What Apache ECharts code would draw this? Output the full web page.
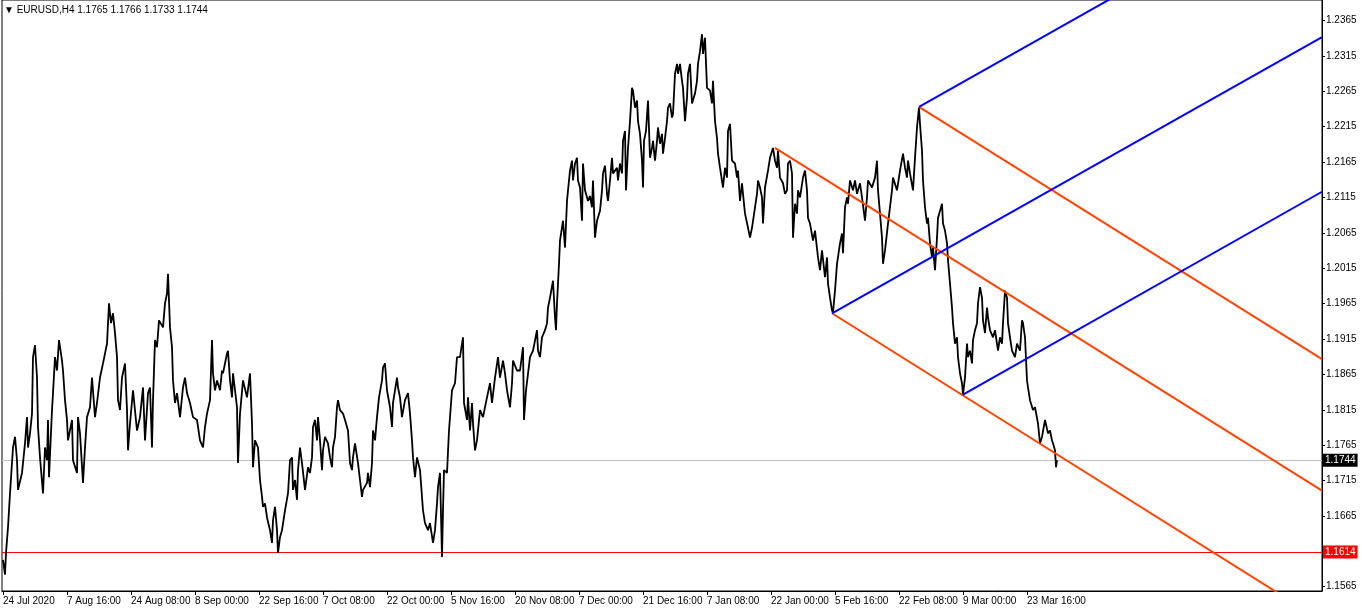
<!DOCTYPE html>
<html>
<head>
<meta charset="utf-8">
<script src="https://cdn.jsdelivr.net/npm/echarts@6.0.0/dist/echarts.min.js"></script>
<style>
html,body{margin:0;padding:0;background:#fff;}
#main{width:1362px;height:612px;}
</style>
</head>
<body>
<div id="main"></div>
<script>
// ---- data ----
const headerText = '\u25BC EURUSD,H4 1.1765 1.1766 1.1733 1.1744';
const xTickBars = [0,64,128,192,256,320,384,448,512,576,640,704,768,832,896,960,1024];
const xTickLabels = ['24 Jul 2020','7 Aug 16:00','24 Aug 08:00','8 Sep 00:00','22 Sep 16:00','7 Oct 08:00','22 Oct 00:00','5 Nov 16:00','20 Nov 08:00','7 Dec 00:00','21 Dec 16:00','7 Jan 08:00','22 Jan 00:00','5 Feb 16:00','22 Feb 08:00','9 Mar 00:00','23 Mar 16:00'];
const yTickFirst = 1.1565, yTickLast = 1.2365, yTickStep = 0.005;
const yHiddenLabels = ['1.1615'];
const yMin = 1.15589, yMax = 1.23954;
const barMin = -1, barMax = 1319;
const bidLevel = 1.1744;
const alertLevel = 1.1614;
// [bar index, price]
const pricePath = [[0,1.1603],[2,1.1582],[3,1.1613],[5,1.1649],[7,1.1697],[10,1.1762],[12,1.1777],[14,1.1744],[15,1.1702],[19,1.1726],[22,1.1768],[24,1.1805],[25,1.1762],[27,1.1782],[29,1.1810],[30,1.1890],[32,1.1907],[34,1.1861],[35,1.1791],[37,1.1748],[40,1.1697],[42,1.1762],[44,1.1744],[45,1.1801],[46,1.1720],[49,1.1815],[50,1.1839],[52,1.1890],[54,1.1871],[56,1.1914],[59,1.1885],[60,1.1871],[62,1.1829],[64,1.1801],[65,1.1772],[69,1.1801],[70,1.1744],[74,1.1726],[75,1.1805],[77,1.1782],[80,1.1712],[82,1.1762],[84,1.1805],[87,1.1819],[89,1.1861],[92,1.1805],[94,1.1825],[97,1.1861],[100,1.1881],[104,1.1909],[106,1.1966],[108,1.1938],[110,1.1952],[112,1.1924],[114,1.1890],[115,1.1829],[117,1.1815],[119,1.1861],[122,1.1881],[124,1.1815],[125,1.1758],[127,1.1796],[130,1.1843],[134,1.1786],[137,1.1805],[140,1.1847],[142,1.1772],[145,1.1839],[147,1.1847],[149,1.1762],[150,1.1829],[152,1.1914],[154,1.1904],[156,1.1942],[160,1.1932],[162,1.1966],[164,1.1980],[165,1.2008],[167,1.1932],[169,1.1904],[170,1.1857],[172,1.1825],[174,1.1839],[177,1.1805],[180,1.1847],[182,1.1861],[184,1.1839],[187,1.1825],[190,1.1805],[194,1.1801],[197,1.1772],[200,1.1762],[202,1.1791],[204,1.1810],[207,1.1829],[209,1.1914],[210,1.1867],[212,1.1843],[214,1.1857],[217,1.1843],[219,1.1871],[220,1.1867],[224,1.1895],[225,1.1899],[227,1.1857],[229,1.1833],[230,1.1867],[234,1.1819],[235,1.1740],[237,1.1810],[240,1.1857],[244,1.1833],[247,1.1867],[249,1.1796],[250,1.1734],[252,1.1772],[255,1.1762],[257,1.1716],[259,1.1692],[260,1.1678],[262,1.1683],[264,1.1663],[267,1.1645],[269,1.1627],[270,1.1659],[272,1.1678],[274,1.1645],[275,1.1613],[277,1.1635],[279,1.1645],[282,1.1673],[285,1.1697],[287,1.1744],[289,1.1748],[290,1.1702],[292,1.1716],[294,1.1688],[295,1.1730],[297,1.1762],[299,1.1740],[302,1.1702],[305,1.1734],[307,1.1726],[309,1.1748],[310,1.1791],[312,1.1801],[314,1.1772],[315,1.1805],[317,1.1772],[319,1.1730],[320,1.1758],[322,1.1777],[325,1.1768],[327,1.1748],[329,1.1734],[330,1.1762],[332,1.1777],[334,1.1819],[335,1.1829],[337,1.1815],[340,1.1810],[342,1.1801],[345,1.1786],[347,1.1740],[349,1.1730],[350,1.1748],[352,1.1768],[355,1.1740],[357,1.1716],[359,1.1692],[360,1.1702],[364,1.1712],[365,1.1726],[367,1.1706],[369,1.1740],[370,1.1786],[372,1.1772],[374,1.1805],[376,1.1833],[379,1.1857],[380,1.1875],[382,1.1881],[384,1.1843],[387,1.1819],[389,1.1791],[390,1.1825],[392,1.1843],[394,1.1861],[395,1.1847],[397,1.1833],[399,1.1805],[402,1.1829],[405,1.1839],[407,1.1810],[409,1.1772],[410,1.1748],[412,1.1720],[414,1.1748],[417,1.1730],[419,1.1692],[420,1.1673],[422,1.1655],[425,1.1645],[427,1.1655],[430,1.1627],[432,1.1645],[434,1.1683],[435,1.1706],[437,1.1726],[439,1.1607],[440,1.1673],[441,1.1730],[444,1.1726],[446,1.1786],[449,1.1843],[452,1.1853],[454,1.1890],[457,1.1890],[459,1.1909],[460,1.1918],[461,1.1825],[464,1.1801],[465,1.1833],[467,1.1786],[469,1.1825],[470,1.1796],[472,1.1758],[474,1.1772],[477,1.1815],[480,1.1805],[484,1.1833],[487,1.1853],[489,1.1825],[492,1.1861],[495,1.1890],[497,1.1861],[500,1.1885],[502,1.1867],[504,1.1843],[507,1.1819],[509,1.1853],[510,1.1885],[514,1.1871],[517,1.1871],[520,1.1904],[521,1.1801],[523,1.1843],[527,1.1890],[530,1.1899],[534,1.1928],[535,1.1899],[537,1.1890],[539,1.1918],[542,1.1928],[544,1.1938],[545,1.1960],[547,1.1974],[550,1.1998],[552,1.1946],[553,1.1928],[554,1.1966],[556,1.2022],[557,1.2055],[560,1.2083],[562,1.2045],[564,1.2111],[565,1.2126],[567,1.2154],[569,1.2168],[570,1.2140],[572,1.2164],[574,1.2172],[575,1.2140],[577,1.2130],[579,1.2083],[580,1.2164],[582,1.2126],[585,1.2111],[587,1.2118],[589,1.2102],[590,1.2140],[592,1.2059],[594,1.2083],[597,1.2097],[599,1.2126],[600,1.2150],[602,1.2161],[604,1.2121],[605,1.2111],[607,1.2140],[609,1.2172],[610,1.2150],[614,1.2158],[615,1.2140],[617,1.2164],[619,1.2150],[620,1.2196],[622,1.2210],[623,1.2126],[625,1.2186],[627,1.2224],[629,1.2271],[630,1.2267],[632,1.2243],[634,1.2253],[635,1.2224],[637,1.2206],[639,1.2168],[640,1.2130],[641,1.2196],[643,1.2210],[645,1.2253],[647,1.2172],[649,1.2186],[650,1.2196],[652,1.2168],[654,1.2196],[655,1.2215],[657,1.2192],[659,1.2206],[660,1.2178],[662,1.2200],[664,1.2224],[665,1.2243],[667,1.2249],[669,1.2229],[670,1.2234],[672,1.2291],[674,1.2305],[675,1.2291],[677,1.2305],[679,1.2281],[680,1.2271],[682,1.2224],[684,1.2257],[685,1.2291],[687,1.2305],[689,1.2249],[692,1.2263],[694,1.2281],[695,1.2305],[697,1.2323],[699,1.2347],[700,1.2319],[702,1.2342],[704,1.2271],[707,1.2267],[709,1.2249],[710,1.2281],[712,1.2224],[714,1.2200],[715,1.2178],[717,1.2158],[720,1.2130],[722,1.2158],[724,1.2144],[725,1.2210],[727,1.2220],[729,1.2168],[732,1.2164],[734,1.2144],[735,1.2154],[737,1.2111],[739,1.2136],[740,1.2121],[742,1.2093],[745,1.2073],[747,1.2059],[749,1.2073],[752,1.2102],[754,1.2121],[755,1.2140],[757,1.2130],[759,1.2116],[760,1.2079],[762,1.2130],[765,1.2154],[767,1.2172],[770,1.2186],[772,1.2168],[774,1.2158],[775,1.2182],[777,1.2144],[780,1.2136],[782,1.2121],[784,1.2126],[785,1.2164],[787,1.2168],[789,1.2150],[790,1.2059],[792,1.2107],[794,1.2093],[795,1.2126],[797,1.2116],[800,1.2144],[802,1.2154],[804,1.2126],[805,1.2087],[807,1.2079],[810,1.2055],[812,1.2069],[815,1.2031],[817,1.2013],[819,1.2041],[822,1.2003],[824,1.2031],[825,1.1994],[827,1.1974],[829,1.1956],[830,1.1953],[832,1.1984],[834,1.2022],[837,1.2051],[839,1.2065],[840,1.2037],[842,1.2102],[844,1.2116],[845,1.2107],[847,1.2140],[850,1.2126],[852,1.2140],[854,1.2121],[857,1.2136],[859,1.2116],[862,1.2083],[864,1.2116],[865,1.2140],[869,1.2130],[872,1.2144],[874,1.2168],[875,1.2126],[877,1.2093],[879,1.2059],[880,1.2022],[882,1.2041],[885,1.2079],[889,1.2126],[890,1.2144],[894,1.2126],[897,1.2154],[900,1.2178],[902,1.2158],[904,1.2144],[905,1.2168],[907,1.2150],[910,1.2126],[912,1.2172],[914,1.2215],[916,1.2243],[917,1.2220],[919,1.2182],[920,1.2140],[922,1.2102],[924,1.2079],[925,1.2087],[927,1.2051],[929,1.2031],[930,1.2045],[932,1.2013],[934,1.2059],[935,1.2087],[939,1.2107],[940,1.2079],[942,1.2069],[944,1.2051],[945,1.2027],[947,1.1994],[949,1.1960],[950,1.1938],[952,1.1909],[954,1.1918],[955,1.1890],[957,1.1867],[959,1.1853],[960,1.1837],[962,1.1861],[964,1.1909],[965,1.1890],[967,1.1899],[969,1.1881],[970,1.1914],[972,1.1928],[974,1.1938],[975,1.1966],[977,1.1989],[979,1.1974],[980,1.1942],[982,1.1924],[984,1.1960],[985,1.1946],[987,1.1928],[990,1.1918],[992,1.1928],[995,1.1899],[997,1.1918],[999,1.1909],[1000,1.1938],[1002,1.1984],[1004,1.1974],[1005,1.1938],[1007,1.1918],[1009,1.1899],[1012,1.1890],[1014,1.1909],[1017,1.1899],[1019,1.1942],[1020,1.1938],[1022,1.1918],[1024,1.1857],[1025,1.1847],[1027,1.1829],[1030,1.1815],[1032,1.1819],[1035,1.1796],[1037,1.1768],[1039,1.1777],[1042,1.1801],[1045,1.1782],[1047,1.1786],[1049,1.1772],[1050,1.1768],[1052,1.1758],[1053,1.1734],[1054,1.1744]];
// channel lines: [[startBar, startPrice],[endBar, endPrice]]
const orangeLines = [
  [[772,1.2186],[1319,1.1701]],
  [[916,1.2244],[1319,1.1887]],
  [[829,1.1952],[1319,1.1517]]
];
const blueLines = [
  [[829,1.1952],[1319,1.2343]],
  [[916,1.2244],[1319,1.2566]],
  [[960,1.1837],[1319,1.2124]]
];

// ---- chart ----
const FONT = "'Liberation Sans', 'DejaVu Sans', sans-serif";
const chart = echarts.init(document.getElementById('main'), null, {renderer: 'canvas'});

const priceLabel = (bg) => ({
  show: true, position: 'end', distance: 1,
  formatter: (p) => Number(p.value).toFixed(4),
  color: '#fff', backgroundColor: bg,
  fontFamily: FONT, fontSize: 10, lineHeight: 11,
  padding: [1, 2, 1, 2]
});

const series = [
  {
    type: 'line', name: 'EURUSD', data: pricePath,
    showSymbol: false, symbol: 'none', z: 3,
    lineStyle: {color: '#000', width: 1.8},
    markLine: {
      silent: true, symbol: 'none', animation: false, z: 1, precision: 4,
      data: [
        {yAxis: bidLevel, lineStyle: {color: '#c0c0c0', width: 1, type: 'solid'}, label: priceLabel('#000')},
        {yAxis: alertLevel, lineStyle: {color: '#ff0000', width: 1, type: 'solid'}, label: priceLabel('#ff0000')}
      ]
    }
  }
];
orangeLines.forEach(l => series.push({
  type: 'line', data: l, showSymbol: false, symbol: 'none', z: 4, clip: true,
  lineStyle: {color: '#ff4500', width: 2}
}));
blueLines.forEach(l => series.push({
  type: 'line', data: l, showSymbol: false, symbol: 'none', z: 4, clip: true,
  lineStyle: {color: '#0000ff', width: 2}
}));

chart.setOption({
  animation: false,
  backgroundColor: '#fff',
  title: {
    text: headerText, left: 4, top: 5, padding: 0,
    textStyle: {fontFamily: FONT, fontSize: 10, fontWeight: 'normal', color: '#000'}
  },
  grid: [
    {left: 2, right: 40, top: -1, bottom: 21, show: true, borderColor: '#000', borderWidth: 1, backgroundColor: 'transparent'},
    // scale grid: spans exactly from the lowest to the highest price label
    {left: 2, right: 40, top: 20.51, bottom: 25.31, show: false}
  ],
  xAxis: [
    {
      type: 'value', min: barMin, max: barMax, gridIndex: 0,
      axisLine: {show: true, onZero: false, lineStyle: {color: '#000', width: 1}},
      axisTick: {show: true, customValues: xTickBars, length: 4, lineStyle: {color: '#000'}},
      axisLabel: {
        customValues: xTickBars,
        formatter: (v) => xTickLabels[xTickBars.indexOf(v)],
        align: 'left', margin: 5,
        fontFamily: FONT, fontSize: 10, color: '#000'
      },
      splitLine: {show: false}
    },
    {type: 'value', gridIndex: 1, min: 0, max: 1, show: false}
  ],
  yAxis: [
    {
      type: 'value', position: 'right', min: yMin, max: yMax, gridIndex: 0,
      axisLine: {show: true, onZero: false, lineStyle: {color: '#000', width: 1}},
      axisTick: {show: false}, axisLabel: {show: false},
      splitLine: {show: false}
    },
    {
      type: 'value', position: 'right', gridIndex: 1,
      min: yTickFirst, max: yTickLast, interval: yTickStep,
      axisLine: {show: false, onZero: false},
      axisTick: {show: true, length: 3, lineStyle: {color: '#000'}},
      axisLabel: {
        formatter: (v) => { const s = v.toFixed(4); return yHiddenLabels.includes(s) ? '' : s; },
        margin: 4, fontFamily: FONT, fontSize: 10, color: '#000'
      },
      splitLine: {show: false}
    }
  ],
  series: series
});
</script>
</body>
</html>
